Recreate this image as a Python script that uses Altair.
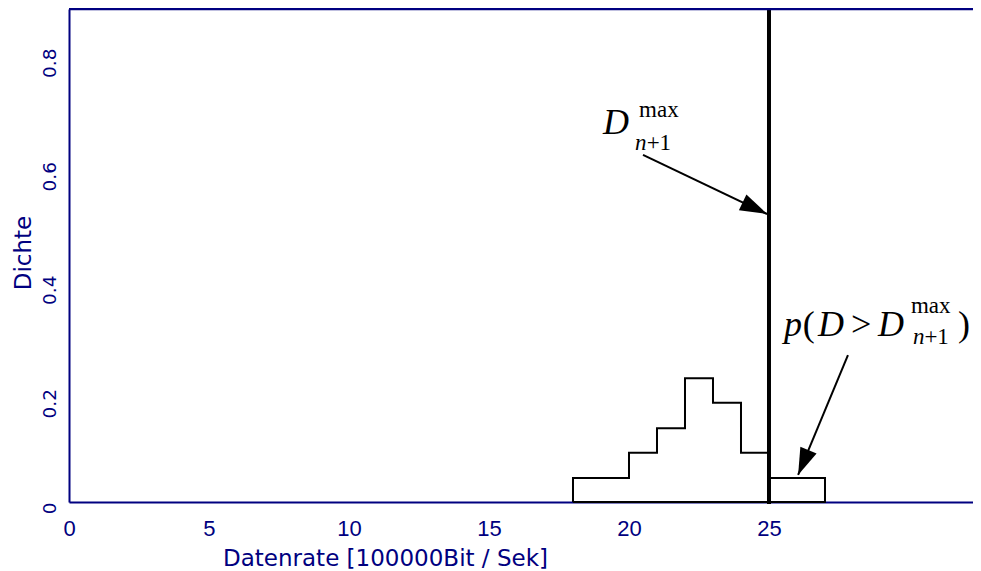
import math
import altair as alt
import pandas as pd

NAVY = "#000080"

# ---- data -------------------------------------------------------------
bin_left = [18, 20, 21, 22, 23, 24, 25]
bin_right = [20, 21, 22, 23, 24, 25, 27]
density = [0.0423, 0.087, 0.130, 0.218, 0.175, 0.087, 0.0423]
d_max = 25

x_ticks = [0, 5, 10, 15, 20, 25]
y_ticks = [0, 0.2, 0.4, 0.6, 0.8]
x_domain = [0, 32.286]
y_domain = [0, 0.8687]

x_title = "Datenrate [100000Bit / Sek]"
y_title = "Dichte"

# annotation texts: (text, x, y, style)
ann_text = ["D", "max", "n", "+1",
            "p", "(", "D", ">", "D", "max", "n", "+1", ")"]
ann_x = [19.07, 20.36, 20.21, 20.63,
         25.54, 26.21, 26.75, 27.93, 28.89, 30.07, 30.14, 30.55, 31.75]
ann_y = [0.6485, 0.6784, 0.6203, 0.6203,
         0.2925, 0.2925, 0.2925, 0.2925, 0.2925, 0.333, 0.2784, 0.2784, 0.2925]
ann_style = ["bigI", "smallR", "smallI", "smallR",
             "bigI", "bigR", "bigI", "bigR", "bigI", "smallR", "smallI", "smallR", "bigR"]

# arrows: start and tip in data units
arrow_x0 = [20.5, 27.82]
arrow_y0 = [0.6115, 0.259]
arrow_x1 = [24.93, 26.04]
arrow_y1 = [0.5075, 0.0476]

# ---- sizes ------------------------------------------------------------
W, H = 904, 493
px_x = W / (x_domain[1] - x_domain[0])
px_y = H / (y_domain[1] - y_domain[0])

# ---- tables -----------------------------------------------------------
step_x = [bin_left[0]] + bin_left + [bin_right[-1], bin_left[0]]
step_y = [0] + density + [0, 0]
steps = pd.DataFrame({"x": step_x, "y": step_y, "o": list(range(len(step_x)))})

ann = pd.DataFrame({"t": ann_text, "x": ann_x, "y": ann_y, "s": ann_style})

angles = []
for a, b, c, d in zip(arrow_x0, arrow_y0, arrow_x1, arrow_y1):
    dx = (c - a) * px_x
    dy = -(d - b) * px_y
    angles.append(math.degrees(math.atan2(dx, -dy)) % 360)
arrows = pd.DataFrame({"x0": arrow_x0, "y0": arrow_y0, "x1": arrow_x1,
                       "y1": arrow_y1, "ang": angles})

xs = alt.Scale(domain=x_domain, nice=False, zero=False)
ys = alt.Scale(domain=y_domain, nice=False, zero=False)

x_axis = alt.Axis(values=x_ticks, grid=False, ticks=False, tickSize=0,
                  domainColor=NAVY, domainWidth=2,
                  labelColor=NAVY, labelFont="Liberation Sans", labelFontSize=22,
                  labelPadding=33, labelBaseline="alphabetic", labelFlush=False,
                  labelOverlap=False,
                  title=x_title, titleFont="DejaVu Sans", titleFontSize=23,
                  titleColor=NAVY, titleFontWeight="normal",
                  titleX=316, titleY=63, titleAlign="center",
                  titleBaseline="alphabetic")
y_axis = alt.Axis(values=y_ticks, format="~g", grid=False, ticks=False, tickSize=0,
                  domainColor=NAVY, domainWidth=2,
                  labelColor=NAVY, labelFont="DejaVu Sans", labelFontSize=18.5,
                  labelAngle=270, labelAlign="right", labelBaseline="alphabetic",
                  labelPadding=14, labelFlush=False, labelOverlap=False,
                  title=y_title, titleFont="DejaVu Sans", titleFontSize=23,
                  titleColor=NAVY, titleFontWeight="normal", titleAngle=270,
                  titleX=-39, titleY=243.5, titleAlign="center",
                  titleBaseline="alphabetic")

hist = alt.Chart(steps).mark_line(
    color="black", strokeWidth=2, interpolate="step-after"
).encode(
    x=alt.X("x:Q", scale=xs, axis=x_axis),
    y=alt.Y("y:Q", scale=ys, axis=y_axis),
    order="o:Q",
)

top_border = alt.Chart(pd.DataFrame({"a": [0]})).mark_rule(
    color=NAVY, strokeWidth=2.5
).encode(x=alt.value(0), x2=alt.value(W), y=alt.value(0))

vline = alt.Chart(pd.DataFrame({"x": [d_max]})).mark_rule(
    color="black", strokeWidth=4
).encode(x=alt.X("x:Q", scale=xs), y=alt.value(-2), y2=alt.value(H + 2))

arrow_lines = alt.Chart(arrows).mark_rule(color="black", strokeWidth=2).encode(
    x=alt.X("x0:Q", scale=xs), y=alt.Y("y0:Q", scale=ys),
    x2="x1:Q", y2="y1:Q")

arrow_heads = alt.Chart(arrows).mark_point(
    shape="M0,0 L-0.65,2 L0.65,2 Z", filled=True, color="black",
    opacity=1, size=729, strokeWidth=0
).encode(
    x=alt.X("x1:Q", scale=xs), y=alt.Y("y1:Q", scale=ys),
    angle=alt.Angle("ang:Q", scale=None))

def txt(style, size, italic):
    return alt.Chart(ann).transform_filter(
        alt.datum.s == style
    ).mark_text(
        font="Liberation Serif", fontSize=size,
        fontStyle="italic" if italic else "normal",
        align="left", baseline="alphabetic", color="black"
    ).encode(x=alt.X("x:Q", scale=xs), y=alt.Y("y:Q", scale=ys), text="t:N")

chart = alt.layer(
    hist, vline, top_border, arrow_lines, arrow_heads,
    txt("bigI", 36, True), txt("bigR", 36, False),
    txt("smallI", 23, True), txt("smallR", 23, False),
).properties(
    width=W, height=H,
    padding={"left": 61, "top": 1, "right": 0, "bottom": 70},
    autosize=alt.AutoSizeParams(type="none"),
).configure_view(stroke=None).configure(background="white")

chart.save("out.html", embed_options={"renderer": "svg", "actions": False})
